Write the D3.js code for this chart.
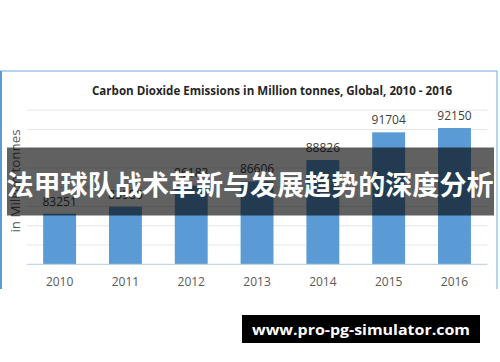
<!DOCTYPE html>
<html><head><meta charset="utf-8">
<script src="https://cdn.jsdelivr.net/npm/d3@7"></script>
<style>html,body{margin:0;padding:0;background:#fff;}svg{display:block;}</style>
</head><body>
<script>
const years = ["2010","2011","2012","2013","2014","2015","2016"];
const emissions = [83251, 83986, 86183, 86606, 88826, 91704, 92150];
const yTicks = [78000, 80000, 82000, 84000, 86000, 88000, 90000, 92000, 94000];
const chartTitle = "Carbon Dioxide Emissions in Million tonnes, Global, 2010 - 2016";
const yTitle = "in Million tonnes";
const bannerText = "法甲球队战术革新与发展趋势的深度分析";
const siteText = "www.pro-pg-simulator.com";

const W = 500, H = 362;
const svg = d3.select("body").append("svg").attr("width", W).attr("height", H);
svg.append("rect").attr("width", W).attr("height", H).attr("fill", "#fff");

// chart frame
svg.append("rect").attr("x", 1).attr("y", 71).attr("width", 496).attr("height", 230)
  .attr("fill", "#fff").attr("stroke", "#8cb8e3").attr("stroke-width", 1.2);
svg.append("line").attr("x1", 1).attr("x2", 1).attr("y1", 71).attr("y2", 289)
  .attr("stroke", "#5b9bd5").attr("stroke-width", 2);
svg.append("rect").attr("x", 0).attr("y", 289).attr("width", W).attr("height", 20).attr("fill", "#fff");

const x = d3.scaleBand().domain(years).range([26.7, 487.4]).paddingInner(0.5).paddingOuter(0.25);
const y = d3.scaleLinear().domain([78000, 94000]).range([264.3, 110.2]);

// gridlines
svg.append("g").selectAll("line").data(yTicks.slice(1)).join("line")
  .attr("x1", 26.7).attr("x2", 487.4)
  .attr("y1", d => y(d)).attr("y2", d => y(d))
  .attr("stroke", "#e6e6e6").attr("stroke-width", 1);

// bars
svg.append("g").selectAll("rect").data(emissions).join("rect")
  .attr("x", (d, i) => x(years[i]))
  .attr("width", x.bandwidth())
  .attr("y", d => y(d))
  .attr("height", d => y(78000) - y(d))
  .attr("fill", "#5b9bd5");

// baseline
svg.append("line").attr("x1", 26.7).attr("x2", 487.4).attr("y1", y(78000)).attr("y2", y(78000))
  .attr("stroke", "#b4cde6").attr("stroke-width", 1);

// value labels
svg.append("g").selectAll("text").data(emissions).join("text")
  .attr("x", (d, i) => x(years[i]) + x.bandwidth() / 2)
  .attr("y", d => y(d) - 8)
  .attr("text-anchor", "middle")
  .attr("font-family", "Open Sans, Liberation Sans, sans-serif")
  .attr("font-size", 12)
  .attr("fill", "#404040")
  .text(d => d);

// x axis labels
const xAxis = d3.axisBottom(x).tickSize(0).tickPadding(0);
const gx = svg.append("g").attr("transform", "translate(0,286)").call(xAxis);
gx.select(".domain").remove();
gx.selectAll("text").attr("dy", 0).attr("y", 0)
  .attr("font-family", "Open Sans, Liberation Sans, sans-serif")
  .attr("font-size", 12).attr("fill", "#595959");

// title
svg.append("text").attr("x", 272).attr("y", 94.5).attr("text-anchor", "middle")
  .attr("font-family", "Open Sans, Liberation Sans, sans-serif")
  .attr("font-weight", "bold").attr("font-size", 12.5).attr("fill", "#262626")
  .attr("textLength", 360).attr("lengthAdjust", "spacingAndGlyphs")
  .text(chartTitle);

// y title
svg.append("text").attr("transform", "translate(20,181) rotate(-90)")
  .attr("text-anchor", "middle")
  .attr("font-family", "Open Sans, Liberation Sans, sans-serif")
  .attr("font-size", 12).attr("fill", "#595959")
  .attr("textLength", 103).attr("lengthAdjust", "spacingAndGlyphs")
  .text(yTitle);

// banner overlay
svg.append("rect").attr("x", 7).attr("y", 147.5).attr("width", 487).attr("height", 68)
  .attr("fill", "rgba(0,0,0,0.62)");
svg.append("text").attr("x", 250).attr("y", 183).attr("text-anchor", "middle")
  .attr("dominant-baseline", "central")
  .attr("font-family", "Noto Sans CJK SC, sans-serif")
  .attr("font-weight", "bold").attr("font-size", 27).attr("fill", "#fff")
  .attr("textLength", 487).attr("lengthAdjust", "spacingAndGlyphs")
  .text(bannerText);

// watermark
svg.append("rect").attr("x", 242).attr("y", 315).attr("width", 238).attr("height", 28).attr("fill", "#000");
svg.append("text").attr("x", 361).attr("y", 329).attr("text-anchor", "middle")
  .attr("dominant-baseline", "central")
  .attr("font-family", "Open Sans, Liberation Sans, sans-serif")
  .attr("font-weight", "bold").attr("font-size", 15).attr("fill", "#fff")
  .attr("textLength", 218).attr("lengthAdjust", "spacingAndGlyphs")
  .text(siteText);
</script>
</body></html>
